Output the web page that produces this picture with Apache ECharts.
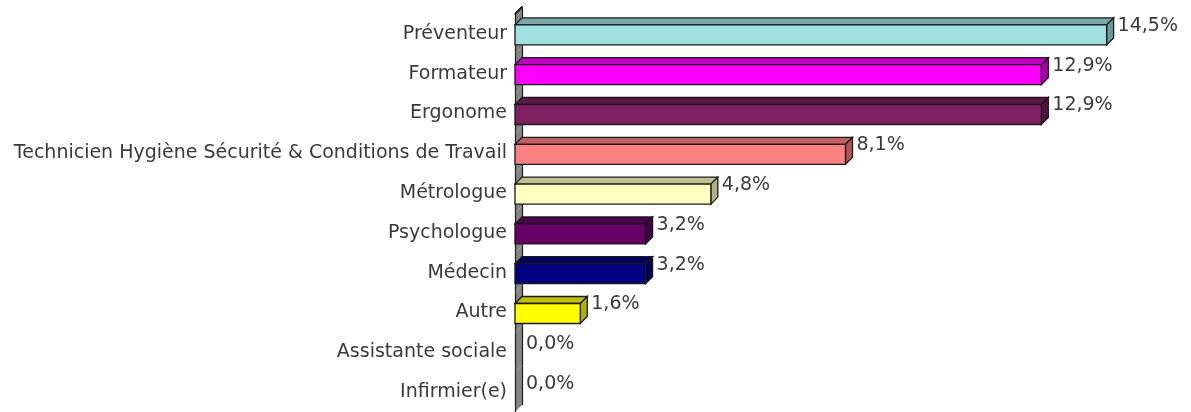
<!DOCTYPE html>
<html>
<head>
<meta charset="utf-8">
<script src="https://cdn.jsdelivr.net/npm/echarts@6/dist/echarts.min.js"></script>
<style>
  html, body { margin: 0; padding: 0; background: #fff; }
  #chart { width: 1191px; height: 412px; }
</style>
</head>
<body>
<div id="chart"></div>
<script>
// métiers et pourcentages
const categories = ['Préventeur', 'Formateur', 'Ergonome', 'Technicien Hygiène Sécurité & Conditions de Travail',
  'Métrologue', 'Psychologue', 'Médecin', 'Autre', 'Assistante sociale', 'Infirmier(e)']
const values = [14.5, 12.9, 12.9, 8.1, 4.8, 3.2, 3.2, 1.6, 0, 0]
const frontColors = ['#a0e0e0', '#ff00ff', '#802060', '#ff8080', '#ffffc0', '#660066', '#000080', '#ffff00', '#cccccc', '#cccccc']
const topColors = ['#78a8a8', '#c000c0', '#601848', '#c06060', '#c0c090', '#4c004c', '#000060', '#c0c000', '#999999', '#999999']
const sideColors = ['#6a9a9a', '#a800a8', '#501040', '#b05656', '#b0b080', '#420042', '#000050', '#b0b000', '#888888', '#888888']

const FONT = 'DejaVu Sans'
const FONT_SIZE = 19
const DX = 7, DY = -7, BAR_H = 20
const EDGE = '#1a1a1a'

const chart = echarts.init(document.getElementById('chart'))

function renderBar (params, api) {
  const i = params.dataIndex
  const v = api.value(0)
  const p0 = api.coord([0, i])
  const p1 = api.coord([v, i])
  const band = api.size([0, 1])[1]
  const x0 = p0[0], x1 = p1[0], yc = p0[1]
  const b0 = yc - band / 2, b1 = yc + band / 2
  const yTop = yc - BAR_H / 2 + 1, yBot = yTop + BAR_H
  const children = []

  // mur gris de l'axe
  children.push({
    type: 'polygon', z2: 0, silent: true,
    shape: { points: [[x0, b0], [x0 + DX, b0 + DY], [x0 + DX, b1 + DY], [x0, b1]] },
    style: { fill: '#858585', stroke: null }
  })
  children.push({
    type: 'line', z2: 1, silent: true,
    shape: { x1: x0 + 0.5, y1: b0, x2: x0 + 0.5, y2: b1 },
    style: { stroke: EDGE, lineWidth: 1.2 }
  })
  children.push({
    type: 'line', z2: 1, silent: true,
    shape: { x1: x0 + DX + 0.5, y1: b0 + DY, x2: x0 + DX + 0.5, y2: b1 + DY },
    style: { stroke: EDGE, lineWidth: 1.2 }
  })
  if (i === 0) {
    children.push({
      type: 'polygon', z2: 2, silent: true,
      shape: { points: [[x0, b0 + 1], [x0 + DX, b0 + DY + 1], [x0 + DX, b0 + DY - 1], [x0, b0 - 1]] },
      style: { fill: '#333', stroke: EDGE, lineWidth: 1 }
    })
  }

  if (v > 0) {
    children.push({
      type: 'polygon', z2: 10,
      shape: { points: [[x0, yTop], [x0 + DX, yTop + DY], [x1 + DX, yTop + DY], [x1, yTop]] },
      style: { fill: topColors[i], stroke: EDGE, lineWidth: 1.3 }
    })
    children.push({
      type: 'polygon', z2: 10,
      shape: { points: [[x1, yTop], [x1 + DX, yTop + DY], [x1 + DX, yBot + DY], [x1, yBot]] },
      style: { fill: sideColors[i], stroke: EDGE, lineWidth: 1.3 }
    })
    children.push({
      type: 'rect', z2: 11,
      shape: { x: x0, y: yTop, width: x1 - x0, height: BAR_H },
      style: { fill: frontColors[i], stroke: EDGE, lineWidth: 1.3 }
    })
  }

  children.push({
    type: 'text', z2: 12,
    x: x1 + DX + 4, y: yTop + 1,
    style: {
      text: v.toFixed(1).replace('.', ',') + '%',
      fill: '#3a3a3a', font: FONT_SIZE + 'px "' + FONT + '"',
      verticalAlign: 'middle', align: 'left'
    }
  })
  return { type: 'group', children: children }
}

chart.setOption({
  animation: false,
  grid: { left: 515, right: 64, top: 14, bottom: -2 },
  xAxis: {
    type: 'value', min: 0, max: 15, show: false
  },
  yAxis: {
    type: 'category',
    data: categories,
    inverse: true,
    axisLine: { show: false },
    axisTick: { show: false },
    splitLine: { show: false },
    axisLabel: { color: '#3a3a3a', fontSize: FONT_SIZE, fontFamily: FONT, margin: 8 }
  },
  series: [{
    type: 'custom',
    renderItem: renderBar,
    encode: { x: 0, y: 1 },
    data: values.map((v, i) => [v, i])
  }]
})
</script>
</body>
</html>
